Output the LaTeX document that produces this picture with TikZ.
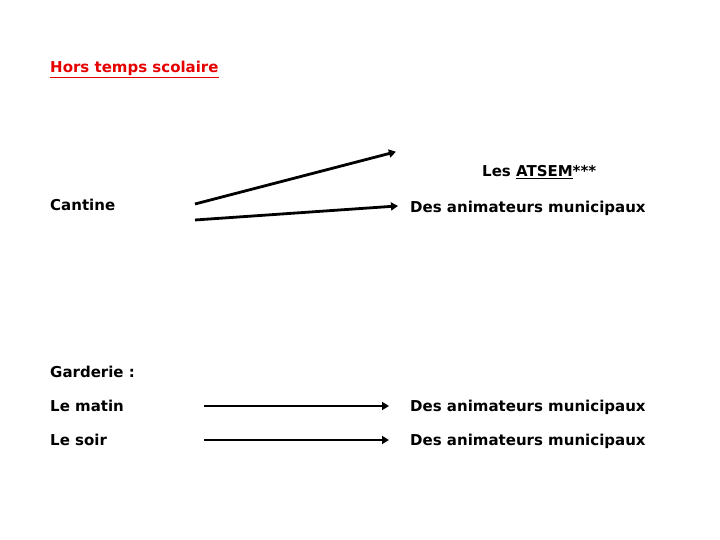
\documentclass[tikz,border=0pt]{standalone}
\usepackage{fontspec}
\setmainfont{DejaVu Sans}
\usetikzlibrary{arrows.meta}
\definecolor{titlered}{RGB}{230,0,0}
\tikzset{
  lbl/.style={anchor=base west, inner sep=0pt, font=\fontsize{15}{17}\selectfont\bfseries},
  arr/.style={line width=2.8pt, -{Triangle[length=7pt,width=8pt]}, shorten >=-1pt}
}
\begin{document}
\begin{tikzpicture}[x=1pt,y=-1pt]
\useasboundingbox (0,0) rectangle (720,540);
\node[lbl, text=titlered] (title) at (50,73) {\underline{Hors temps scolaire}};
\node[lbl] (atsem) at (482,177) {Les \underline{ATSEM}***};
\node[lbl] (cantine) at (50,211) {Cantine};
\node[lbl] (anim1) at (410,212) {Des animateurs municipaux};
\node[lbl] (garderie) at (50,377) {Garderie :};
\node[lbl] (matin) at (50,411) {Le matin};
\node[lbl] (anim2) at (410,411) {Des animateurs municipaux};
\node[lbl] (soir) at (50,445) {Le soir};
\node[lbl] (anim3) at (410,445) {Des animateurs municipaux};
\coordinate (c1s) at (195,204);
\coordinate (c1e) at (395,152);
\coordinate (c2s) at (195,220);
\coordinate (c2e) at (397,206);
\coordinate (m1s) at (204,406);
\coordinate (m1e) at (388,406);
\coordinate (s1s) at (204,440);
\coordinate (s1e) at (388,440);
\draw[arr] (c1s) -- (c1e);
\draw[arr] (c2s) -- (c2e);
\draw[arr] (m1s) -- (m1e);
\draw[arr] (s1s) -- (s1e);
\end{tikzpicture}
\end{document}
